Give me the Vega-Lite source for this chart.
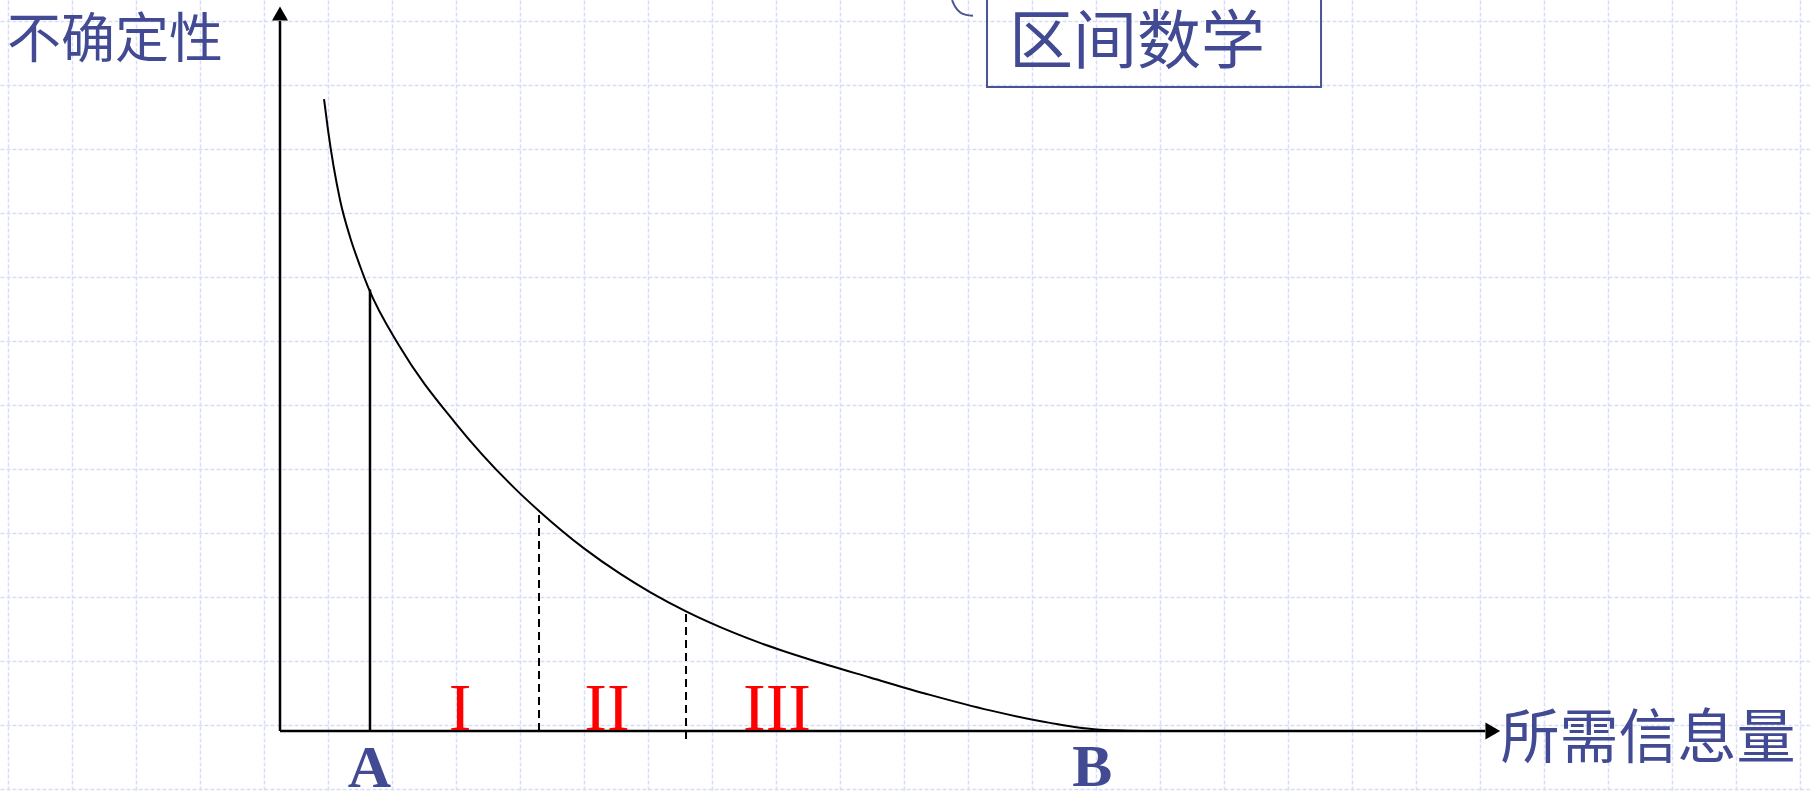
{
  "$schema": "https://vega.github.io/schema/vega-lite/v6.json",
  "width": 1810,
  "height": 791,
  "autosize": {"type": "none"},
  "padding": 0,
  "background": "#ffffff",
  "config": {"view": {"stroke": null}},
  "datasets": {
    "curve": [
      {"x": 0.688, "y": 9.875}, {"x": 0.75, "y": 9.391}, {"x": 0.938, "y": 8.297},
      {"x": 1.094, "y": 7.719}, {"x": 1.25, "y": 7.266},
      {"x": 1.375, "y": 6.938}, {"x": 1.875, "y": 6.0}, {"x": 2.734, "y": 4.819},
      {"x": 3.672, "y": 3.787}, {"x": 4.047, "y": 3.438}, {"x": 4.75, "y": 2.853},
      {"x": 5.313, "y": 2.458}, {"x": 5.781, "y": 2.171}, {"x": 6.344, "y": 1.870},
      {"x": 6.719, "y": 1.693}, {"x": 7.5, "y": 1.377}, {"x": 8.25, "y": 1.125},
      {"x": 9.219, "y": 0.836}, {"x": 10.156, "y": 0.565}, {"x": 11.094, "y": 0.322},
      {"x": 12.031, "y": 0.127}, {"x": 12.813, "y": 0.020}, {"x": 13.594, "y": 0.0}
    ],
    "solidSegs": [
      {"x": 0, "y": 0, "x2": 0, "y2": 11.094},
      {"x": 0, "y": 0, "x2": 18.83, "y2": 0},
      {"x": 1.406, "y": 0, "x2": 1.406, "y2": 6.9}
    ],
    "dashedSegs": [
      {"x": 4.047, "y": 0, "x2": 4.047, "y2": 3.42},
      {"x": 6.344, "y": -0.125, "x2": 6.344, "y2": 1.875}
    ],
    "arrowUp": [{"x": 0, "y": 11.211}],
    "arrowRight": [{"x": 18.95, "y": 0}],
    "yTitle": [{"x": -2.578, "y": 10.766, "label": "不确定性"}],
    "xTitle": [{"x": 21.375, "y": -0.14, "label": "所需信息量"}],
    "boxTitle": [{"x": 13.39, "y": 10.73, "label": "区间数学"}],
    "box": [{"x": 11.047, "x2": 16.266, "y": 10.0625, "y2": 12.5}],
    "arc": [
      {"x": 10.5, "y": 11.42}, {"x": 10.547, "y": 11.32}, {"x": 10.625, "y": 11.23},
      {"x": 10.719, "y": 11.19}, {"x": 10.828, "y": 11.175}
    ],
    "roman": [
      {"x": 2.8125, "y": 0.016, "label": "I"},
      {"x": 5.109, "y": 0.016, "label": "II"},
      {"x": 7.766, "y": 0.016, "label": "III"}
    ],
    "letters": [
      {"x": 1.398, "y": -0.875, "label": "A"},
      {"x": 12.69, "y": -0.86, "label": "B"}
    ]
  },
  "encoding": {
    "x": {
      "field": "x", "type": "quantitative",
      "scale": {"domain": [-4.375, 23.906], "nice": false, "zero": false},
      "axis": {
        "title": null, "labels": false, "ticks": false, "domain": false,
        "grid": true, "gridColor": "#D5DDF8", "gridDash": [4, 2], "gridWidth": 1.5,
        "values": [-4.25,-3.25,-2.25,-1.25,-0.25,0.75,1.75,2.75,3.75,4.75,5.75,6.75,7.75,8.75,9.75,10.75,11.75,12.75,13.75,14.75,15.75,16.75,17.75,18.75,19.75,20.75,21.75,22.75,23.75]
      }
    },
    "y": {
      "field": "y", "type": "quantitative",
      "scale": {"domain": [-0.9375, 11.422], "nice": false, "zero": false},
      "axis": {
        "title": null, "labels": false, "ticks": false, "domain": false,
        "grid": true, "gridColor": "#D5DDF8", "gridDash": [4, 2], "gridWidth": 1.5,
        "values": [11.094,10.094,9.094,8.094,7.094,6.094,5.094,4.094,3.094,2.094,1.094,0.094,-0.906]
      }
    }
  },
  "layer": [
    {
      "data": {"name": "box"},
      "mark": {"type": "rect", "fill": null, "stroke": "#4A5298", "strokeWidth": 2, "clip": true},
      "encoding": {"x2": {"field": "x2"}, "y2": {"field": "y2"}}
    },
    {
      "data": {"name": "arc"},
      "mark": {"type": "line", "color": "#4A5298", "strokeWidth": 2, "interpolate": "monotone", "clip": true},
      "encoding": {}
    },
    {
      "data": {"name": "curve"},
      "mark": {"type": "line", "color": "#000000", "strokeWidth": 2, "interpolate": "monotone"},
      "encoding": {"order": {"field": "x", "type": "quantitative"}}
    },
    {
      "data": {"name": "solidSegs"},
      "mark": {"type": "rule", "color": "#000000", "strokeWidth": 2.5},
      "encoding": {"x2": {"field": "x2"}, "y2": {"field": "y2"}}
    },
    {
      "data": {"name": "dashedSegs"},
      "mark": {"type": "rule", "color": "#000000", "strokeWidth": 2, "strokeDash": [8, 5]},
      "encoding": {"x2": {"field": "x2"}, "y2": {"field": "y2"}}
    },
    {
      "data": {"name": "arrowUp"},
      "mark": {"type": "point", "shape": "triangle-up", "filled": true, "color": "#000000", "opacity": 1, "size": 256, "strokeWidth": 0}
    },
    {
      "data": {"name": "arrowRight"},
      "mark": {"type": "point", "shape": "triangle-right", "filled": true, "color": "#000000", "opacity": 1, "size": 289, "strokeWidth": 0}
    },
    {
      "data": {"name": "yTitle"},
      "mark": {"type": "text", "font": "Noto Sans CJK SC", "fontSize": 54, "color": "#414A92", "align": "center", "baseline": "middle"},
      "encoding": {"text": {"field": "label"}}
    },
    {
      "data": {"name": "xTitle"},
      "mark": {"type": "text", "font": "Noto Sans CJK SC", "fontSize": 59, "color": "#414A92", "align": "center", "baseline": "middle"},
      "encoding": {"text": {"field": "label"}}
    },
    {
      "data": {"name": "boxTitle"},
      "mark": {"type": "text", "font": "Noto Sans CJK SC", "fontSize": 64, "color": "#414A92", "align": "center", "baseline": "middle"},
      "encoding": {"text": {"field": "label"}}
    },
    {
      "data": {"name": "roman"},
      "mark": {"type": "text", "font": "Liberation Serif", "fontSize": 68, "color": "#FF0000", "align": "center", "baseline": "alphabetic"},
      "encoding": {"text": {"field": "label"}}
    },
    {
      "data": {"name": "letters"},
      "mark": {"type": "text", "font": "Liberation Serif", "fontWeight": "bold", "fontSize": 60, "color": "#414A92", "align": "center", "baseline": "alphabetic"},
      "encoding": {"text": {"field": "label"}}
    }
  ]
}
